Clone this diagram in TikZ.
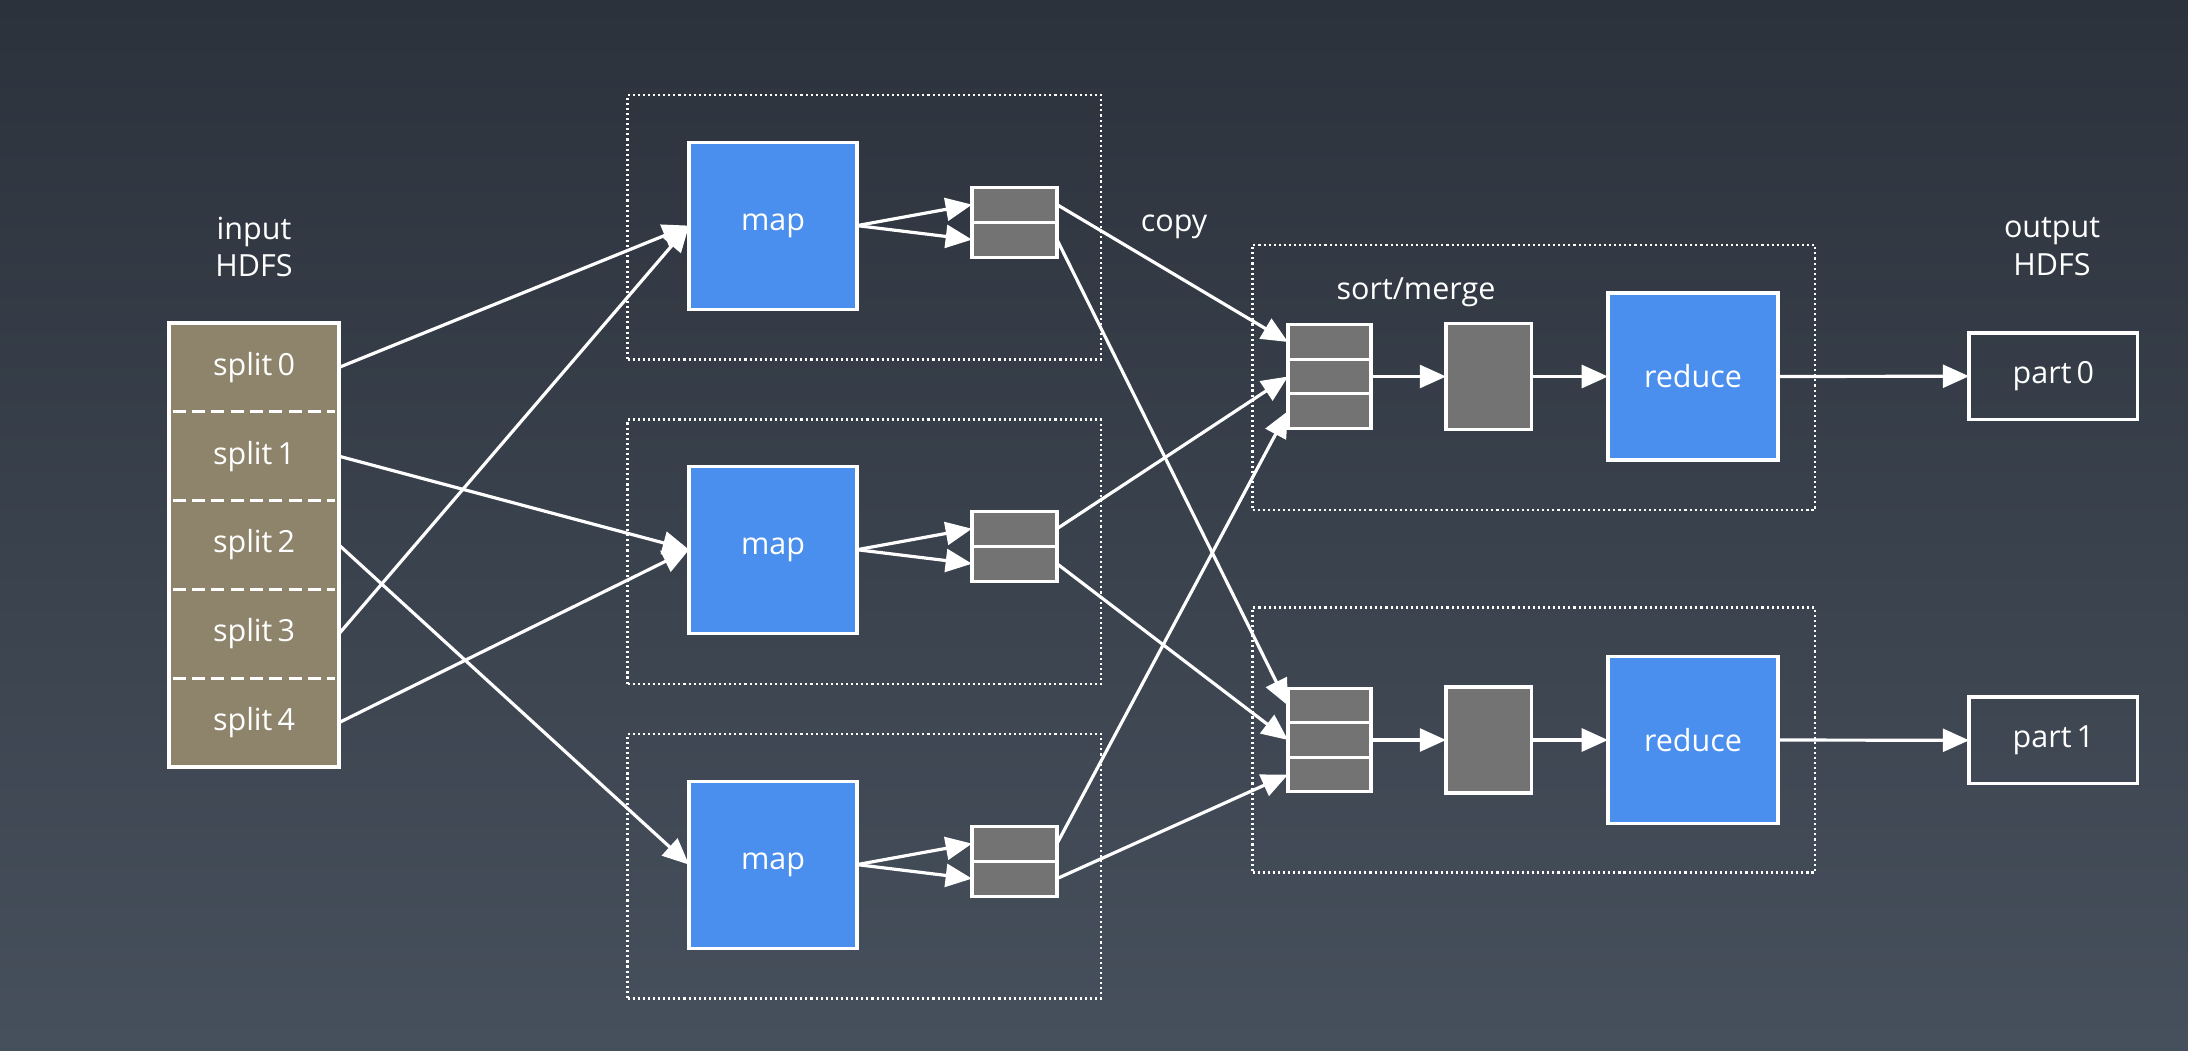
\documentclass[tikz,border=0pt]{standalone}
\usepackage{fontspec}
\setmainfont{Open Sans}
\usetikzlibrary{arrows.meta}

\definecolor{bgtop}{RGB}{44,50,60}
\definecolor{bgbot}{RGB}{70,80,92}
\definecolor{mapblue}{RGB}{74,142,238}
\definecolor{splitc}{RGB}{142,132,108}
\definecolor{bufgray}{RGB}{115,115,115}

% one drawing unit
\newcommand\pxu{0.5bp}

\begin{document}
\begin{tikzpicture}[x=\pxu, y=-\pxu,
  font=\fontsize{15.3}{19}\selectfont, text=white,
  every node/.style={inner sep=0pt, outer sep=0pt},
  splitcell/.style={fill=splitc, minimum width=170*\pxu, minimum height=88.8*\pxu},
  mapbox/.style={draw=white, line width=1.6pt, fill=mapblue,
                 minimum width=168*\pxu, minimum height=167*\pxu},
  redbox/.style={draw=white, line width=1.6pt, fill=mapblue,
                 minimum width=170*\pxu, minimum height=167*\pxu},
  bufcell/.style={draw=white, line width=1.6pt, fill=bufgray,
                  minimum width=85*\pxu, minimum height=35*\pxu},
  sortcell/.style={draw=white, line width=1.6pt, fill=bufgray,
                   minimum width=83*\pxu, minimum height=34.5*\pxu},
  mergebox/.style={draw=white, line width=1.6pt, fill=bufgray,
                   minimum width=85.5*\pxu, minimum height=106*\pxu},
  partbox/.style={draw=white, line width=1.6pt,
                  minimum width=168.7*\pxu, minimum height=86.6*\pxu},
  stagebox/.style={draw=white, line width=1.25pt, dash pattern=on 1.05pt off 1.5pt},
  mapstage/.style={stagebox, minimum width=473.5*\pxu, minimum height=264.5*\pxu},
  redstage/.style={stagebox, minimum width=562.5*\pxu, minimum height=265*\pxu},
  plain/.style={draw=white, line width=1.6pt},
  divider/.style={draw=white, line width=1.6pt, dash pattern=on 6.5pt off 3.2pt},
  link/.style={draw=white, line width=1.6pt,
               -{Triangle[length=13.2pt, width=11.5pt]}},
]

% background
\useasboundingbox (0,0) rectangle (2188,1050);
\shade[top color=bgtop, bottom color=bgbot] (0,0) rectangle (2188,1050);

% dotted stage frames
\node[mapstage] (g1) at (864.3,227.2) {};
\node[mapstage] (g2) at (864.3,551.8) {};
\node[mapstage] (g3) at (864.3,866.2) {};
\node[redstage] (h1) at (1533.8,377.5) {};
\node[redstage] (h2) at (1533.8,740) {};

% input splits
\node[align=center] (inlbl) at (254,247) {input\\HDFS};
\foreach \i/\y in {0/367.4,1/456.2,2/545,3/633.8,4/722.6}
  \node[splitcell] (s\i) at (254,\y) {split\,\i};
\draw[plain] (s0.north west) rectangle (s4.south east);
\foreach \i in {0,1,2,3}
  \draw[divider] ([xshift=1.8pt]s\i.south west) -- ([xshift=-1.8pt]s\i.south east);

% map tasks with their two spill buffers
\foreach \k/\y in {1/225.6,2/549.7,3/864.6} {
  \node[mapbox] (m\k) at (773,\y) {map};
  \node[bufcell] (b\k a) at (1014.5,\y-21) {};
  \node[bufcell] (b\k b) at (1014.5,\y+14) {};
}

% reduce side
\foreach \k/\y in {1/376.5,2/740} {
  \node[sortcell] (q\k a) at (1329.5,\y-34.5) {};
  \node[sortcell] (q\k b) at (1329.5,\y) {};
  \node[sortcell] (q\k c) at (1329.5,\y+34.5) {};
  \node[mergebox] (mg\k) at (1488.8,\y) {};
  \node[redbox] (rd\k) at (1693,\y) {reduce};
}
\node[partbox] (p0) at (2053.4,376.2) {part\,0};
\node[partbox] (p1) at (2053.4,740.3) {part\,1};

\node (copylbl) at (1174,227) {copy};
\node (smlbl) at (1416,292) {sort/merge};
\node[align=center] (outlbl) at (2052,247) {output\\HDFS};

% splits to maps
\draw[link] (s0.east) -- (m1.west);
\draw[link] (s3.east) -- (m1.west);
\draw[link] (s1.east) -- (m2.west);
\draw[link] (s4.east) -- (m2.west);
\draw[link] (s2.east) -- (m3.west);

% maps to buffers
\foreach \k in {1,2,3} {
  \draw[link] (m\k.east) -- (b\k a.west);
  \draw[link] (m\k.east) -- (b\k b.west);
}

% copy phase
\draw[link] (b1a.east) -- (q1a.west);
\draw[link] (b1b.east) -- (q2a.west);
\draw[link] (b2a.east) -- (q1b.west);
\draw[link] (b2b.east) -- (q2b.west);
\draw[link] (b3a.east) -- (q1c.west);
\draw[link] (b3b.east) -- (q2c.west);

% merge, reduce, output
\foreach \k/\p in {1/p0,2/p1} {
  \draw[link] (q\k b.east) -- (mg\k.west);
  \draw[link] (mg\k.east) -- (rd\k.west);
  \draw[link] (rd\k.east) -- (\p.west);
}

\end{tikzpicture}
\end{document}
